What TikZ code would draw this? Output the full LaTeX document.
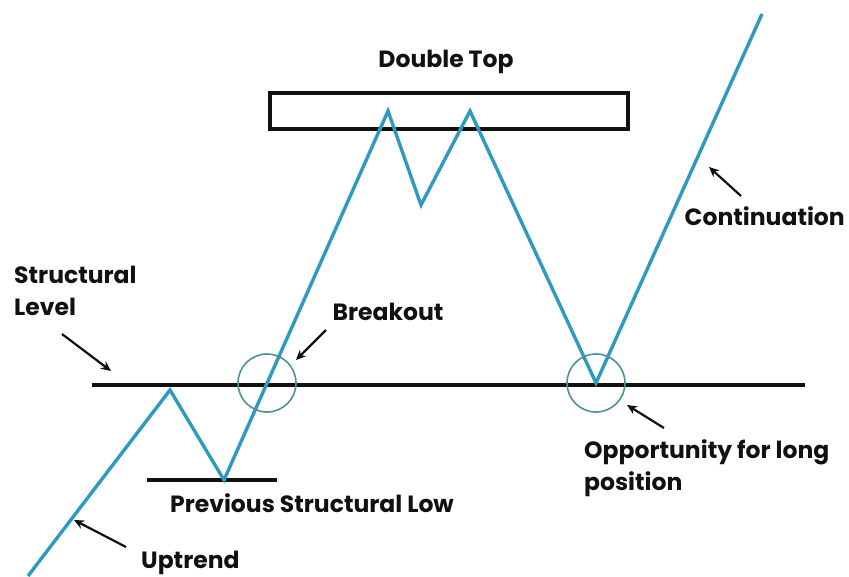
\documentclass[tikz,border=0pt]{standalone}
\usepackage{fontspec}
\setmainfont{Poppins}[BoldFont={* Bold}]
\usepackage{tikz}
\usetikzlibrary{arrows.meta,positioning,calc}
\definecolor{cTrend}{HTML}{2E9AC0}
\definecolor{cRing}{HTML}{4F8E9C}
\definecolor{cInk}{HTML}{111111}
\tikzset{
  price/.style={cTrend,line width=3.4pt,line join=miter},
  level/.style={cInk,line width=3.6pt},
  ring/.style={circle,draw=cRing,line width=1.6pt,minimum size=58pt,inner sep=0pt},
  lbl/.style={text=cInk,font=\fontsize{23.5}{32}\selectfont\bfseries,inner sep=0pt,align=left},
  pointer/.style={-{Stealth[length=10pt,width=9pt]},cInk,line width=2.2pt},
}
\begin{document}
\begin{tikzpicture}[x=1pt,y=-1pt]
\useasboundingbox (0,0) rectangle (849,576);
% turning points of the price path
\coordinate (p0) at (28,576);
\coordinate (p1) at (170,390);
\coordinate (p2) at (224,480);
\coordinate (p3) at (388,111);
\coordinate (p4) at (421,205);
\coordinate (p5) at (470,111);
\coordinate (p6) at (596,383);
\coordinate (p7) at (762,14);
\coordinate (brk) at (267,383);

% levels and box
\draw[level] (92,385) coordinate (lvlL) -- (805,385) coordinate (lvlR);
\draw[level] (147,480) coordinate (lowL) -- (277,480) coordinate (lowR);
\draw[cInk,line width=3.2pt] (270,93) rectangle (628,129);

\draw[price] (p0) -- (p1) -- (p2) -- (p3) -- (p4) -- (p5) -- (p6) -- (p7);

\node[ring] (ringB) at (brk) {};
\node[ring] (ringO) at (p6) {};

% labels
\node[lbl] (dtop) at (446,62) {Double Top};
\node[lbl,anchor=west] (slev) at (14,291) {Structural\\Level};
\node[lbl] (bko) at (388,312) {Breakout};
\node[lbl,anchor=east] (cont) at (845,216) {Continuation};
\node[lbl,anchor=west] (opp) at (584,468) {Opportunity for long\\position};
\node[lbl] (prev) at (312,503) {Previous Structural Low};
\node[lbl,anchor=west] (up) at (141,563) {Uptrend};

% pointers
\coordinate (aS0) at (62,334);  \coordinate (aS1) at (111,371);
\coordinate (aB0) at (326,330); \coordinate (aB1) at (296,360);
\coordinate (aU0) at (126,547); \coordinate (aU1) at (74,520);
\coordinate (aC0) at (741,196); \coordinate (aC1) at (709,167);
\coordinate (aO0) at (664,428); \coordinate (aO1) at (627,405);
\draw[pointer] (aS0) -- (aS1);
\draw[pointer] (aB0) -- (aB1);
\draw[pointer] (aU0) -- (aU1);
\draw[pointer] (aC0) -- (aC1);
\draw[pointer] (aO0) -- (aO1);
\end{tikzpicture}
\end{document}
